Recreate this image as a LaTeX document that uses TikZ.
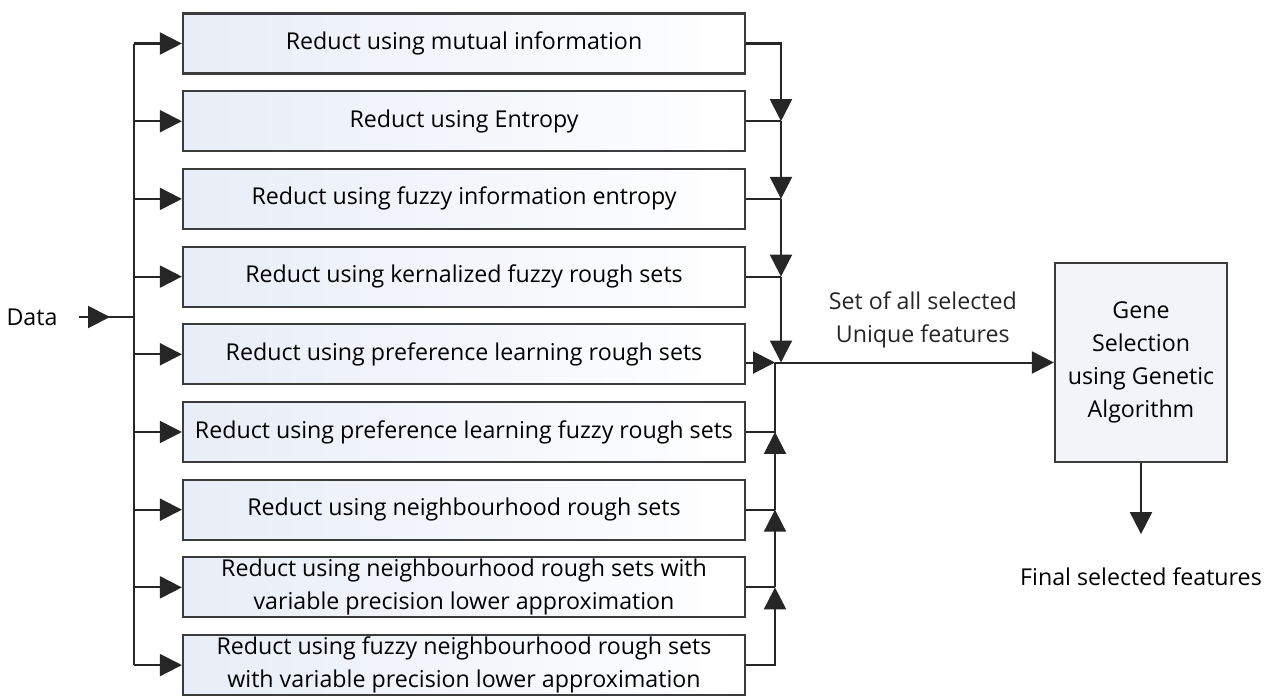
\documentclass[tikz,border=0pt]{standalone}
\usepackage{fontspec}
\setmainfont{Open Sans}
\usepackage{xcolor}
\usetikzlibrary{positioning,arrows.meta}
\definecolor{RBox}{RGB}{232,237,247}
\definecolor{RLine}{RGB}{60,60,60}
\definecolor{GBox}{RGB}{242,244,250}

\begin{document}
\begin{tikzpicture}[
  node distance = 0.31cm and 1.0cm,
  redbox/.style = {
    rectangle, draw=RLine, line width=1.25pt,
    left color=RBox, right color=white,
    align=center, minimum width=11.24cm, minimum height=1.2cm,
    inner ysep=0.5pt, font=\fontsize{13.2}{18.7}\selectfont
  },
  genebox/.style = {
    rectangle, draw=RLine, line width=1.25pt, fill=GBox,
    align=center, minimum width=3.44cm, minimum height=3.98cm,
    font=\fontsize{13.2}{18.7}\selectfont
  },
  plain/.style = {align=center, font=\fontsize{13.2}{18.7}\selectfont},
  wire/.style  = {line width=1.15pt, black!85},
  feed/.style  = {-{Triangle[length=0.44cm,width=0.44cm]}, line width=1.15pt, black!85}
]
\useasboundingbox (0,0) rectangle (25.48,-13.9);

%% ---------- Reduct boxes ----------
\node[redbox] (r1) at (9.28,-0.87)
    {Reduct using mutual information};
\node[redbox, below=of r1] (r2)
    {Reduct using Entropy};
\node[redbox, below=of r2] (r3)
    {Reduct using fuzzy information entropy};
\node[redbox, below=of r3] (r4)
    {Reduct using kernalized fuzzy rough sets};
\node[redbox, below=of r4] (r5)
    {Reduct using preference learning rough sets};
\node[redbox, below=of r5] (r6)
    {Reduct using preference learning fuzzy rough sets};
\node[redbox, below=of r6] (r7)
    {Reduct using neighbourhood rough sets};
\node[redbox, below=of r7] (r8)
    {Reduct using neighbourhood rough sets with\\variable precision lower approximation};
\node[redbox, below=of r8] (r9)
    {Reduct using fuzzy neighbourhood rough sets\\with variable precision lower approximation};

%% ---------- Input and GA stage ----------
\node[plain, inner xsep=0.42cm] (data) at (0.64,-6.34) {Data};

\node[genebox] (gsel) at (22.82,-7.25)
    {Gene\\Selection\\using Genetic\\Algorithm};

\node[plain, below=1.42cm of gsel, inner ysep=0.66cm] (final)
    {Final selected features};

%% ---------- Bus lines ----------
\coordinate (lbus) at (2.68,0);
\coordinate (tbus) at (15.62,0);
\coordinate (bbus) at (15.5,0);
\coordinate (join) at (bbus |- gsel.west);

% data -> all reducts (fan out)
\draw[wire] (data.east) -- (data.east -| lbus);
\draw[feed] (data.east) -- ([xshift=-0.48cm]data.east -| lbus);
\draw[wire] (r1.west -| lbus) -- (r9.west -| lbus);
\draw[feed] (r1.west -| lbus) -- (r1.west);
\draw[feed] (r2.west -| lbus) -- (r2.west);
\draw[feed] (r3.west -| lbus) -- (r3.west);
\draw[feed] (r4.west -| lbus) -- (r4.west);
\draw[feed] (r5.west -| lbus) -- (r5.west);
\draw[feed] (r6.west -| lbus) -- (r6.west);
\draw[feed] (r7.west -| lbus) -- (r7.west);
\draw[feed] (r8.west -| lbus) -- (r8.west);
\draw[feed] (r9.west -| lbus) -- (r9.west);

% upper reducts -> join (down)
\draw[feed] (r1.east) -| (r2.east -| tbus);
\draw[wire] (r2.east) -- (r2.east -| tbus);
\draw[feed] (r2.east -| tbus) -- (r3.east -| tbus);
\draw[wire] (r3.east) -- (r3.east -| tbus);
\draw[feed] (r3.east -| tbus) -- (r4.east -| tbus);
\draw[wire] (r4.east) -- (r4.east -| tbus);
\draw[feed] (r4.east -| tbus) -- (tbus |- join);

\draw[feed] (r5.east |- join) -- (join);

% lower reducts -> join (up)
\draw[feed] (r9.east) -| (r8.east -| bbus);
\draw[wire] (r8.east) -- (r8.east -| bbus);
\draw[feed] (r8.east -| bbus) -- (r7.east -| bbus);
\draw[wire] (r7.east) -- (r7.east -| bbus);
\draw[feed] (r7.east -| bbus) -- (r6.east -| bbus);
\draw[wire] (r6.east) -| (join);

% union -> GA -> output
\draw[feed] (join) -- (gsel.west)
    node[plain, pos=0.53, above=0.16cm] (union) {Set of all selected\\Unique features};
\draw[feed] (gsel) -- (final);

\end{tikzpicture}
\end{document}
